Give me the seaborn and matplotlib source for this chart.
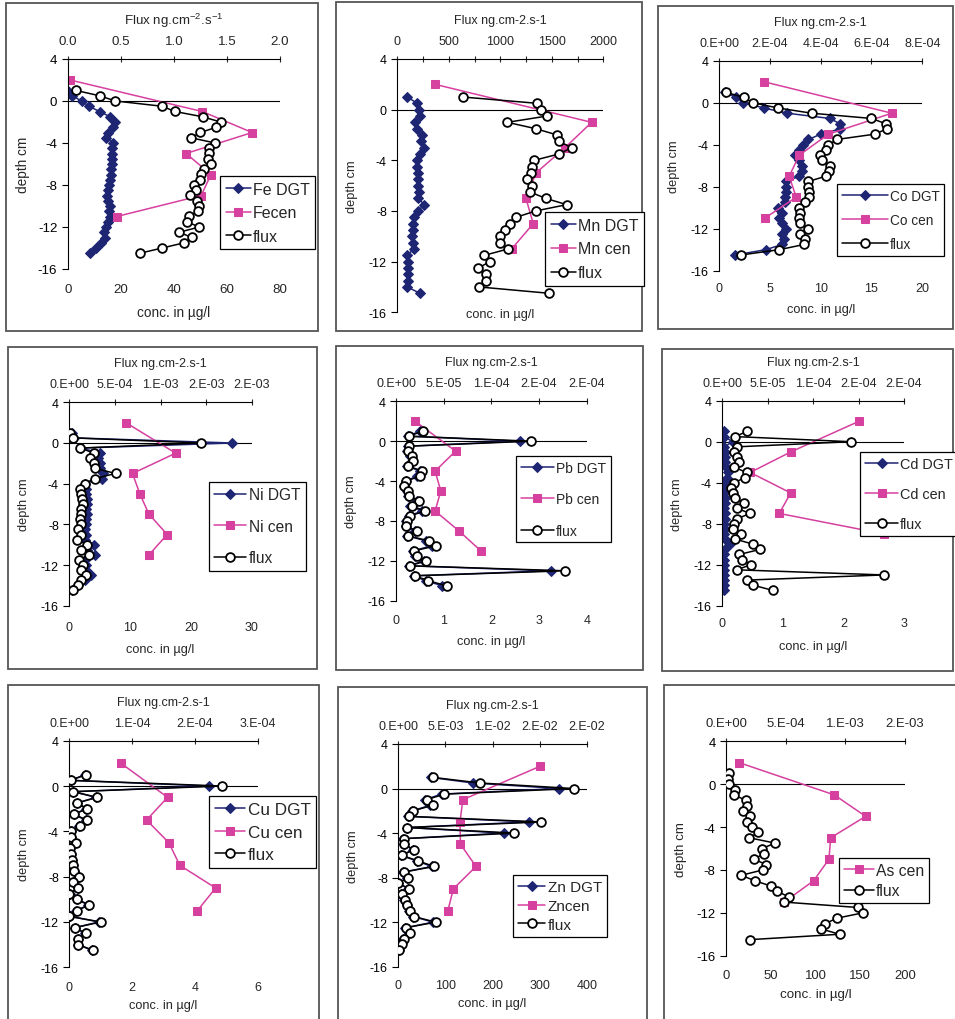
import matplotlib
matplotlib.use("Agg")
import matplotlib.pyplot as plt
import seaborn as sns
from matplotlib.patches import Rectangle
from matplotlib.ticker import FixedLocator

sns.set_style("ticks")
plt.rcParams['font.family'] = ['Liberation Sans', 'DejaVu Sans']
plt.rcParams['axes.unicode_minus'] = False
plt.rcParams['mathtext.fontset'] = 'custom'
plt.rcParams['mathtext.rm'] = 'Liberation Sans'
plt.rcParams['mathtext.it'] = 'Liberation Sans:italic'
plt.rcParams['mathtext.bf'] = 'Liberation Sans:bold'
plt.rcParams['mathtext.default'] = 'regular'

# ---------------- data ----------------
depth = [1, 0.5, 0, -0.5, -1, -1.5, -2, -2.5, -3, -3.5, -4, -4.5, -5, -5.5, -6, -6.5,
         -7, -7.5, -8, -8.5, -9, -9.5, -10, -10.5, -11, -11.5, -12, -12.5, -13, -13.5, -14, -14.5]
cen_depth = [2, -1, -3, -5, -7, -9, -11]
cd_cen_depth = [2, -1, -3, -5, -7, -9]

fe_dgt = [0.3, 1.6, 5.3, 8, 12, 16, 17.8, 17.2, 15.3, 14.5, 17.2, 16.8, 16.8, 16.8, 16.6, 16.3,
          16.3, 16, 15.5, 15.3, 14.8, 15.3, 15.8, 15.5, 15.8, 15.3, 14.5, 13.8, 14, 12.5, 10.5, 8.5]
fe_cen = [0.9, 50.7, 69.5, 44.6, 54, 50.3, 18.5]
fe_flux = [0.08, 0.30, 0.45, 0.89, 1.01, 1.27, 1.44, 1.40, 1.25, 1.16, 1.39, 1.33, 1.33, 1.32, 1.35, 1.28,
           1.26, 1.25, 1.19, 1.21, 1.15, 1.22, 1.24, 1.23, 1.14, 1.12, 1.24, 1.05, 1.17, 1.10, 0.89, 0.68]

mn_dgt = [97, 194, 210, 220, 171, 188, 236, 230, 259, 220, 188, 195, 200, 205, 200, 210,
          205, 259, 204, 165, 155, 150, 145, 150, 160, 97, 107, 105, 107, 105, 97, 220]
mn_cen = [366, 1887, 1628, 1346, 1249, 1320, 1110]
mn_flux = [634, 1359, 1391, 1456, 1068, 1343, 1553, 1569, 1692, 1569, 1330, 1310, 1294, 1256, 1310, 1288,
           1440, 1644, 1343, 1152, 1094, 1045, 997, 997, 1075, 845, 900, 786, 858, 858, 796, 1476]

co_dgt = [0.6, 1.7, 2.4, 4.4, 6.7, 10.9, 11.9, 11.9, 10.0, 8.8, 8.3, 7.9, 7.5, 7.9, 8.2, 8.2,
          7.9, 6.6, 6.6, 6.6, 6.5, 6.5, 5.8, 6.2, 5.9, 6.2, 6.6, 6.2, 6.4, 6.2, 4.6, 1.6]
co_cen = [4.4, 17.0, 10.75, 7.9, 6.9, 7.6, 4.5]
co_flux = [2.6e-5, 9.8e-5, 1.32e-4, 2.32e-4, 3.64e-4, 6.0e-4, 6.56e-4, 6.6e-4, 6.12e-4, 4.64e-4, 4.3e-4,
           4.2e-4, 3.96e-4, 4.04e-4, 4.36e-4, 4.34e-4, 4.2e-4, 3.52e-4, 3.52e-4, 3.54e-4, 3.54e-4, 3.4e-4,
           3.16e-4, 3.2e-4, 3.16e-4, 3.2e-4, 3.52e-4, 3.2e-4, 3.4e-4, 3.36e-4, 2.36e-4, 8.8e-5]

ni_dgt = [0.4, 0.8, 26.7, 2.0, 5.0, 4.8, 5.0, 5.0, 5.6, 5.3, 2.6, 2.7, 2.8, 2.9, 2.9, 2.8,
          2.9, 2.7, 2.8, 2.5, 2.8, 2.5, 4.0, 2.9, 4.2, 2.5, 2.8, 2.8, 3.6, 2.5, 1.5, 0.5]
ni_cen = [9.3, 17.5, 10.4, 11.6, 13.1, 16.1, 13.1]
ni_flux = [1.3e-5, 4.3e-5, 1.447e-3, 1.17e-4, 2.73e-4, 2.27e-4, 2.67e-4, 2.87e-4, 5.07e-4, 2.8e-4, 1.67e-4,
           1.17e-4, 1.27e-4, 1.4e-4, 1.47e-4, 1.27e-4, 1.33e-4, 1.17e-4, 1.33e-4, 9.3e-5, 1.27e-4, 8.7e-5,
           1.93e-4, 1.33e-4, 2.13e-4, 1.07e-4, 1.47e-4, 1.27e-4, 1.8e-4, 1.27e-4, 9.3e-5, 3.7e-5]

pb_dgt = [0.5, 0.25, 2.6, 0.26, 0.24, 0.3, 0.33, 0.24, 0.5, 0.45, 0.2, 0.16, 0.24, 0.26, 0.45, 0.3,
          0.55, 0.27, 0.22, 0.2, 0.4, 0.24, 0.63, 0.75, 0.35, 0.4, 0.58, 0.27, 3.25, 0.37, 0.62, 0.97]
pb_cen = [0.4, 1.25, 0.82, 0.94, 0.82, 1.32, 1.78]
pb_flux = [2.8e-5, 1.35e-5, 1.415e-4, 1.4e-5, 1.3e-5, 1.65e-5, 1.8e-5, 1.3e-5, 2.75e-5, 2.5e-5, 1.1e-5,
           8.5e-6, 1.3e-5, 1.4e-5, 2.45e-5, 1.65e-5, 3.05e-5, 1.45e-5, 1.2e-5, 1.05e-5, 2.15e-5, 1.3e-5,
           3.45e-5, 4.15e-5, 1.9e-5, 2.15e-5, 3.15e-5, 1.45e-5, 1.775e-4, 2.0e-5, 3.4e-5, 5.3e-5]

cd_dgt = [0.03, 0.03, 0.17, 0.03, 0.04, 0.04, 0.05, 0.06, 0.1, 0.07, 0.04, 0.04, 0.03, 0.04, 0.04, 0.03,
          0.04, 0.04, 0.03, 0.04, 0.03, 0.04, 0.13, 0.05, 0.03, 0.03, 0.03, 0.03, 0.03, 0.03, 0.03, 0.03]
cd_cen = [2.26, 1.13, 0.46, 1.13, 0.94, 2.67]
cd_flux = [2.73e-5, 1.4e-5, 1.413e-4, 1.6e-5, 1.33e-5, 1.67e-5, 1.87e-5, 1.33e-5, 2.67e-5, 2.47e-5, 1.33e-5,
           9.3e-6, 1.2e-5, 1.4e-5, 2.4e-5, 1.6e-5, 3.07e-5, 1.67e-5, 1.33e-5, 1.13e-5, 2.07e-5, 1.4e-5,
           3.4e-5, 4.2e-5, 1.87e-5, 2.13e-5, 3.13e-5, 1.6e-5, 1.78e-4, 2.73e-5, 3.4e-5, 5.53e-5]

cu_dgt = [0.5, 0.04, 4.45, 0.12, 0.85, 0.24, 0.54, 0.14, 0.52, 0.32, 0.07, 0.05, 0.19, 0.02, 0.07, 0.1,
          0.12, 0.14, 0.3, 0.12, 0.27, 0.01, 0.24, 0.6, 0.22, 0.01, 0.95, 0.17, 0.5, 0.27, 0.27, 0.72]
cu_cen = [1.65, 3.13, 2.46, 3.17, 3.52, 4.66, 4.08]
cu_flux = [2.65e-5, 2e-6, 2.425e-4, 6.5e-6, 4.45e-5, 1.25e-5, 2.85e-5, 7.5e-6, 2.75e-5, 1.7e-5, 3.5e-6,
           2.5e-6, 1e-5, 1e-6, 3.5e-6, 5e-6, 6.5e-6, 7.5e-6, 1.55e-5, 6.5e-6, 1.45e-5, 0.0,
           1.25e-5, 3.2e-5, 1.15e-5, 0.0, 5e-5, 9e-6, 2.6e-5, 1.45e-5, 1.45e-5, 3.8e-5]

zn_dgt = [69, 158, 341, 92, 56, 68, 30, 21, 278, 18, 224, 11, 12, 31, 6, 39,
          71, 11, 19, 0, 21, 6, 13, 18, 23, 32, 74, 15, 23, 11, 6, 1]
zn_cen = [301, 137, 131, 132, 165, 117, 105]
zn_flux = [3.7e-3, 8.65e-3, 1.865e-2, 4.9e-3, 3.0e-3, 3.65e-3, 1.6e-3, 1.15e-3, 1.52e-2, 9.5e-4, 1.23e-2,
           6e-4, 6.5e-4, 1.65e-3, 3.5e-4, 2.1e-3, 3.8e-3, 6e-4, 1.05e-3, 0.0, 1.15e-3, 3.5e-4,
           7e-4, 9.5e-4, 1.25e-3, 1.7e-3, 3.95e-3, 8e-4, 1.25e-3, 6e-4, 3.5e-4, 5e-5]

as_cen = [15, 121, 156, 117, 115, 98, 65]
as_flux = [2.8e-5, 2.0e-5, 2.8e-5, 7.5e-5, 6.75e-5, 1.65e-4, 1.8e-4, 1.43e-4, 2.03e-4, 1.8e-4, 2.18e-4,
           2.7e-4, 1.95e-4, 4.13e-4, 3.0e-4, 3.15e-4, 2.33e-4, 3.38e-4, 3.08e-4, 1.28e-4, 2.4e-4, 3.75e-4,
           4.28e-4, 5.25e-4, 4.88e-4, 1.103e-3, 1.148e-3, 9.3e-4, 8.33e-4, 7.95e-4, 9.53e-4, 2.03e-4]

# tick values / labels
fe_bot_ticks = [0, 20, 40, 60, 80]
fe_top_ticks = [0.0, 0.5, 1.0, 1.5, 2.0]
fe_top_labels = ["0.0", "0.5", "1.0", "1.5", "2.0"]
mn_top_ticks = [0, 500, 1000, 1500, 2000]
mn_top_labels = ["0", "500", "1000", "1500", "2000"]
co_bot_ticks = [0, 5, 10, 15, 20]
co_top_ticks = [0, 2e-4, 4e-4, 6e-4, 8e-4]
co_top_labels = ["0.E+00", "2.E-04", "4.E-04", "6.E-04", "8.E-04"]
ni_bot_ticks = [0, 10, 20, 30]
ni_top_ticks = [0, 5e-4, 1e-3, 1.5e-3, 2e-3]
ni_top_labels = ["0.E+00", "5.E-04", "1.E-03", "2.E-03", "2.E-03"]
pb_bot_ticks = [0, 1, 2, 3, 4]
pb_top_ticks = [0, 5e-5, 1e-4, 1.5e-4, 2e-4]
pb_top_labels = ["0.E+00", "5.E-05", "1.E-04", "2.E-04", "2.E-04"]
cd_bot_ticks = [0, 1, 2, 3]
cd_top_ticks = [0, 5e-5, 1e-4, 1.5e-4, 2e-4]
cd_top_labels = ["0.E+00", "5.E-05", "1.E-04", "2.E-04", "2.E-04"]
cu_bot_ticks = [0, 2, 4, 6]
cu_top_ticks = [0, 1e-4, 2e-4, 3e-4]
cu_top_labels = ["0.E+00", "1.E-04", "2.E-04", "3.E-04"]
zn_bot_ticks = [0, 100, 200, 300, 400]
zn_top_ticks = [0, 5e-3, 1e-2, 1.5e-2, 2e-2]
zn_top_labels = ["0.E+00", "5.E-03", "1.E-02", "2.E-02", "2.E-02"]
as_bot_ticks = [0, 50, 100, 150, 200]
as_top_ticks = [0, 5e-4, 1e-3, 1.5e-3]
as_top_labels = ["0.E+00", "5.E-04", "1.E-03", "2.E-03"]
depth_ticks = [4, 0, -4, -8, -12, -16]

FLUX_TITLE = "Flux ng.cm-2.s-1"
FE_TITLE = "Flux ng.cm$^{-2}$.s$^{-1}$"

# ---------------- style / layout ----------------
W, H = 955, 1020
DGT_C = '#1e2573'
CEN_C = '#d6409f'
FLUX_C = 'black'
BORDER_C = '#555555'

panels = [
    dict(dgt=fe_dgt, cen=fe_cen, cdep=cen_depth, flux=fe_flux, labels=["Fe DGT", "Fecen", "flux"],
         bticks=fe_bot_ticks, bmax=80, tticks=fe_top_ticks, tlabels=fe_top_labels, tmax=2.0, title=FE_TITLE,
         rect=(67.7, 60, 280, 270), border=(6, 4, 318, 332), leg=(220, 177), btick=20, blab=43, fs=1.07,
         lfs=11.5, hl=25, ls=0.54, bp=0.35),
    dict(dgt=mn_dgt, cen=mn_cen, cdep=cen_depth, flux=mn_flux, labels=["Mn DGT", "Mn cen", "flux"],
         bticks=None, bmax=2000, tticks=mn_top_ticks, tlabels=mn_top_labels, tmax=2000, title=FLUX_TITLE,
         rect=(397.3, 60, 603.3, 313.3), border=(336, 3, 642, 332), leg=(545, 213), btick=18, blab=2,
         tminor=[250, 750, 1250, 1750], lfs=11.5, hl=25, ls=0.55, bp=0.35),
    dict(dgt=co_dgt, cen=co_cen, cdep=cen_depth, flux=co_flux, labels=["Co DGT", "Co cen", "flux"],
         bticks=co_bot_ticks, bmax=20, tticks=co_top_ticks, tlabels=co_top_labels, tmax=8e-4, title=FLUX_TITLE,
         rect=(719, 61.7, 922.3, 271.7), border=(658, 7, 953, 330), leg=(837, 185), btick=17, blab=38,
         lfs=9.8, hl=46, ls=0.75, bp=0.35),
    dict(dgt=ni_dgt, cen=ni_cen, cdep=cen_depth, flux=ni_flux, labels=["Ni DGT", "Ni cen", "flux"],
         bticks=ni_bot_ticks, bmax=30, tticks=ni_top_ticks, tlabels=ni_top_labels, tmax=2e-3, title=FLUX_TITLE,
         rect=(69.3, 403.3, 251.7, 606.7), border=(8, 348, 317, 670), leg=(209, 483), btick=21, blab=43,
         lfs=11.2, hl=32, ls=1.05, bp=0.35),
    dict(dgt=pb_dgt, cen=pb_cen, cdep=cen_depth, flux=pb_flux, labels=["Pb DGT", "Pb cen", "flux"],
         bticks=pb_bot_ticks, bmax=4, tticks=pb_top_ticks, tlabels=pb_top_labels, tmax=2e-4, title=FLUX_TITLE,
         rect=(396, 402.3, 586.7, 601.7), border=(336, 347, 643, 671), leg=(516, 457), btick=19, blab=40,
         lfs=10.0, hl=33, ls=1.25, bp=0.35),
    dict(dgt=cd_dgt, cen=cd_cen, cdep=cd_cen_depth, flux=cd_flux, labels=["Cd DGT", "Cd cen", "flux"],
         bticks=cd_bot_ticks, bmax=3, tticks=cd_top_ticks, tlabels=cd_top_labels, tmax=2e-4, title=FLUX_TITLE,
         rect=(722.3, 401.7, 904, 606.7), border=(662, 350, 953, 672), leg=(860, 453), btick=17, blab=40,
         lfs=10.4, hl=33, ls=1.1, bp=0.35),
    dict(dgt=cu_dgt, cen=cu_cen, cdep=cen_depth, flux=cu_flux, labels=["Cu DGT", "Cu cen", "flux"],
         bticks=cu_bot_ticks, bmax=6, tticks=cu_top_ticks, tlabels=cu_top_labels, tmax=3e-4, title=FLUX_TITLE,
         rect=(69.3, 741.7, 257.7, 968.3), border=(8, 686, 319, 1030), leg=(209, 797), btick=20, blab=38,
         lfs=12.3, hl=30, ls=0.45, bp=0.35),
    dict(dgt=zn_dgt, cen=zn_cen, cdep=cen_depth, flux=zn_flux, labels=["Zn DGT", "Zncen", "flux"],
         bticks=zn_bot_ticks, bmax=400, tticks=zn_top_ticks, tlabels=zn_top_labels, tmax=2e-2, title=FLUX_TITLE,
         rect=(398.3, 745, 586.7, 967.7), border=(338, 688, 647, 1030), leg=(513, 876), btick=18, blab=36,
         lfs=11.0, hl=27, ls=0.3, bp=0.35),
    dict(dgt=None, cen=as_cen, cdep=cen_depth, flux=as_flux, labels=["As cen", "flux"],
         bticks=as_bot_ticks, bmax=200, tticks=as_top_ticks, tlabels=as_top_labels, tmax=1.5e-3, title=None,
         rect=(726, 742.3, 905, 956.7), border=(664, 686, 960, 1030), leg=(839, 859), btick=19, blab=38,
         lfs=11.3, hl=30, ls=0.35, bp=0.3, fs=1.05),
]

fig = plt.figure(figsize=(W / 100, H / 100), dpi=100)
fig.patch.set_facecolor('white')

TICK_FS = 9.0
LAB_FS = 9.2
TITLE_FS = 9.0


def draw_panel(p):
    x0, yt, x1, yb = p['rect']
    aw, ah = x1 - x0, yb - yt
    sc = p.get('fs', 1.0)
    tfs, lfs, ttl = TICK_FS * sc, LAB_FS * sc, TITLE_FS * sc
    ax = fig.add_axes([x0 / W, 1 - yb / H, aw / W, ah / H])
    ax.patch.set_alpha(0)
    handles = []
    if p['dgt'] is not None:
        sns.lineplot(x=p['dgt'], y=depth, sort=False, estimator=None, orient='y', ax=ax,
                     color=DGT_C, linewidth=1.1, marker='D', markersize=4.8,
                     markerfacecolor=DGT_C, markeredgecolor=DGT_C, legend=False)
        handles.append(ax.lines[-1])
    sns.lineplot(x=p['cen'], y=p['cdep'], sort=False, estimator=None, orient='y', ax=ax,
                 color=CEN_C, linewidth=1.1, marker='s', markersize=5.8,
                 markerfacecolor=CEN_C, markeredgecolor=CEN_C, legend=False)
    handles.append(ax.lines[-1])
    ax.axhline(0, color='black', linewidth=0.8, zorder=1)

    axt = ax.twiny()
    axt.patch.set_alpha(0)
    sns.lineplot(x=p['flux'], y=depth, sort=False, estimator=None, orient='y', ax=axt,
                 color=FLUX_C, linewidth=1.1, marker='o', markersize=6.3,
                 markerfacecolor='white', markeredgecolor='black', markeredgewidth=1.3, legend=False)
    handles.append(axt.lines[-1])

    ax.set_xlim(0, p['bmax'])
    axt.set_xlim(0, p['tmax'])
    ax.set_ylim(-16, 4)

    # spines
    for s in ['top', 'right', 'bottom']:
        ax.spines[s].set_visible(False)
    ax.spines['left'].set_color('black')
    ax.spines['left'].set_linewidth(0.8)
    for s in ['left', 'right', 'bottom']:
        axt.spines[s].set_visible(False)
    axt.spines['top'].set_color('black')
    axt.spines['top'].set_linewidth(0.8)

    # y axis
    ax.yaxis.set_major_locator(FixedLocator(depth_ticks))
    ax.set_yticklabels([str(v) for v in depth_ticks])
    ax.tick_params(axis='y', left=True, direction='out', length=4, width=0.8, pad=3.5,
                   labelsize=tfs, colors='black')
    ax.set_ylabel('depth cm', fontsize=lfs)
    ax.yaxis.set_label_coords(-45 / aw, 0.5)
    ax.yaxis.label.set_ha('center')
    ax.yaxis.label.set_va('center')

    # bottom axis
    pad_b = (p['btick'] - 6) * 0.72
    if p['bticks'] is not None:
        ax.xaxis.set_major_locator(FixedLocator(p['bticks']))
        ax.set_xticklabels([str(v) for v in p['bticks']])
        ax.tick_params(axis='x', bottom=True, top=False, length=0, pad=pad_b, labelsize=tfs,
                       labelbottom=True)
    else:
        ax.tick_params(axis='x', bottom=False, top=False, labelbottom=False, length=0)
    ax.set_xlabel('conc. in µg/l', fontsize=lfs)
    ax.xaxis.set_label_coords(0.5, -p['blab'] / ah)
    ax.xaxis.label.set_va('center')

    # top axis
    axt.xaxis.set_major_locator(FixedLocator(p['tticks']))
    axt.set_xticklabels(p['tlabels'])
    axt.tick_params(axis='x', top=True, bottom=False, direction='inout', length=5, width=0.8,
                    pad=6.0, labelsize=tfs, labeltop=True, labelbottom=False)
    if p.get('tminor'):
        axt.xaxis.set_minor_locator(FixedLocator(p['tminor']))
        axt.tick_params(axis='x', which='minor', top=True, bottom=False, direction='inout',
                        length=4, width=0.8)
    axt.set_ylabel('')
    axt.tick_params(axis='y', left=False, right=False, labelleft=False, labelright=False)
    if p['title']:
        axt.set_xlabel(p['title'], fontsize=ttl)
        axt.xaxis.set_label_position('top')
        axt.xaxis.set_label_coords(0.5, 1 + 39 / ah)
        axt.xaxis.label.set_va('center')
    else:
        axt.set_xlabel('')

    # legend
    lx, ly = p['leg']
    fpx = p['lfs'] * 100 / 72
    leg = axt.legend(handles, p['labels'], loc='upper left',
                     bbox_to_anchor=(lx / W, 1 - ly / H), bbox_transform=fig.transFigure,
                     frameon=True, fancybox=False, framealpha=1, edgecolor='black',
                     fontsize=p['lfs'], handlelength=p['hl'] / fpx, handletextpad=0.15,
                     labelspacing=p['ls'], borderpad=p['bp'], borderaxespad=0)
    leg.get_frame().set_linewidth(0.9)

    # panel border
    bx0, by0, bx1, by1 = p['border']
    fig.patches.append(Rectangle((bx0 / W, 1 - by1 / H), (bx1 - bx0) / W, (by1 - by0) / H,
                                 transform=fig.transFigure, fill=False,
                                 edgecolor=BORDER_C, linewidth=1.3, zorder=-1))


for p in panels:
    draw_panel(p)

fig.savefig('out.png', dpi=100, facecolor='white')
